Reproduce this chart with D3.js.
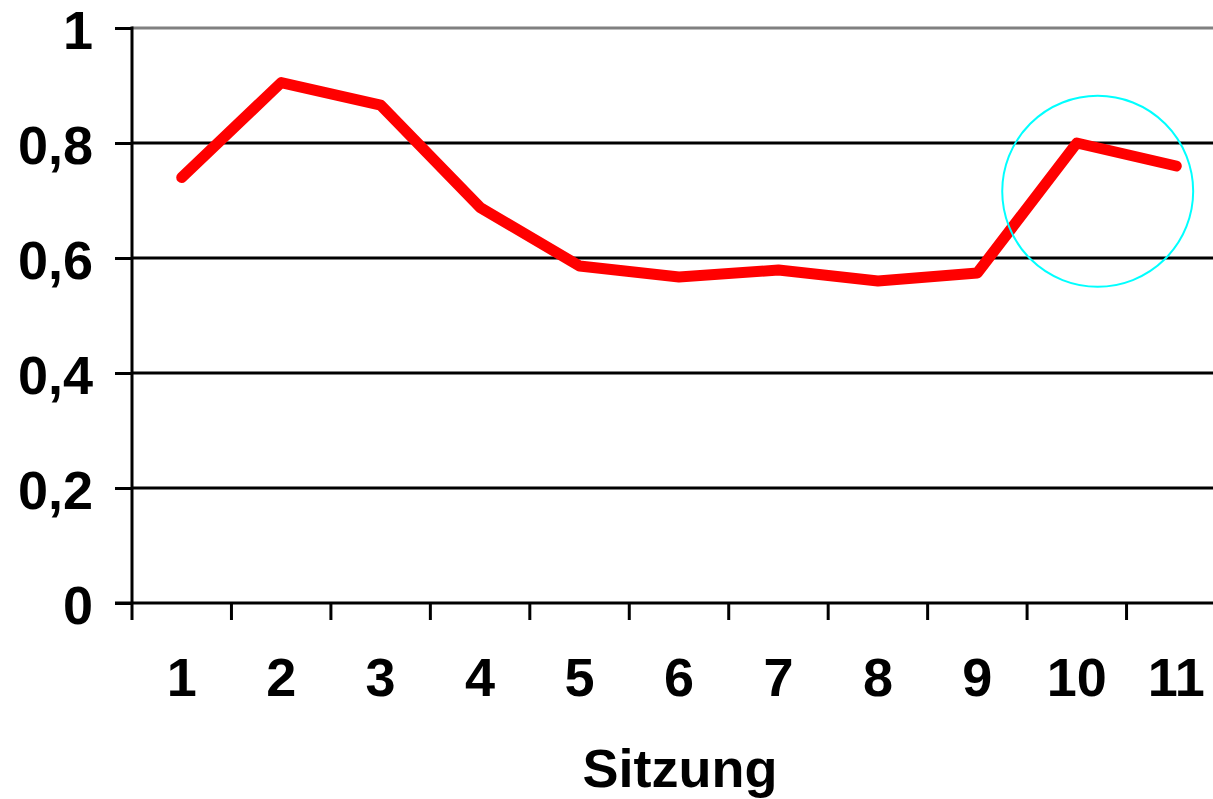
<!DOCTYPE html>
<html><head><meta charset="utf-8">
<script src="https://cdn.jsdelivr.net/npm/d3@7"></script>
<style>html,body{margin:0;padding:0;background:#fff;overflow:hidden}</style>
</head><body>
<svg id="c" width="1213" height="799"></svg>
<script>
const sessions = ["1","2","3","4","5","6","7","8","9","10","11"];
const values = [0.740, 0.905, 0.866, 0.688, 0.586, 0.567, 0.579, 0.560, 0.574, 0.800, 0.760];
const yTicks = [0, 0.2, 0.4, 0.6, 0.8, 1];
const yTickLabels = ["0", "0,2", "0,4", "0,6", "0,8", "1"];
const xTitle = "Sitzung";
const highlight = {from: 9, center: 0.716};

(function () {
const svg = d3.select("#c");
const mLeft = 132, mRight = 1226, mTop = 28, mBottom = 603;
const font = "Arial, 'Liberation Sans', sans-serif";
const fs = 54;

const x = d3.scaleBand().domain(sessions).range([mLeft, mRight]);
const y = d3.scaleLinear().domain([0, 1]).range([mBottom, mTop]);

// gridlines
svg.append("g").selectAll("line").data(yTicks.filter(d => d > 0)).join("line")
  .attr("x1", mLeft).attr("x2", 1213)
  .attr("y1", d => y(d)).attr("y2", d => y(d))
  .attr("stroke", d => d === 1 ? "#808080" : "#000").attr("stroke-width", 3);

// y axis
const yAxis = d3.axisLeft(y).tickValues(yTicks).tickSize(17).tickPadding(22)
  .tickFormat((d, i) => yTickLabels[i]);
const gy = svg.append("g").attr("transform", `translate(${mLeft},0)`).call(yAxis);
gy.select(".domain").remove();
gy.selectAll(".tick line").attr("stroke", "#000").attr("stroke-width", 3);
gy.append("line").attr("x1", 0).attr("x2", 0).attr("y1", mTop - 1.5).attr("y2", mBottom + 17)
  .attr("stroke", "#000").attr("stroke-width", 3);
gy.selectAll(".tick text").attr("font-family", font).attr("font-size", fs)
  .attr("font-weight", "bold").attr("fill", "#000").attr("dy", "0.38em");

// x axis
const bw = x.bandwidth();
const gx = svg.append("g").attr("transform", `translate(0,${mBottom})`);
gx.append("line").attr("x1", mLeft - 17).attr("x2", 1213).attr("y1", 0).attr("y2", 0)
  .attr("stroke", "#000").attr("stroke-width", 3);
gx.selectAll("line.t").data(sessions).join("line").attr("class", "t")
  .attr("x1", d => x(d) + bw).attr("x2", d => x(d) + bw).attr("y1", 0).attr("y2", 17)
  .attr("stroke", "#000").attr("stroke-width", 3);
gx.selectAll("text").data(sessions).join("text")
  .attr("x", d => x(d) + bw / 2).attr("y", 93)
  .attr("text-anchor", "middle").attr("font-family", font).attr("font-size", fs)
  .attr("font-weight", "bold").attr("fill", "#000").text(d => d);

svg.append("text").attr("x", 680).attr("y", 787).attr("text-anchor", "middle")
  .attr("font-family", font).attr("font-size", fs).attr("font-weight", "bold")
  .attr("fill", "#000").text(xTitle);

// line
const line = d3.line().x((d, i) => x(sessions[i]) + bw / 2).y(d => y(d));
svg.append("path").datum(values).attr("d", line).attr("fill", "none")
  .attr("stroke", "#ff0000").attr("stroke-width", 11)
  .attr("stroke-linejoin", "round").attr("stroke-linecap", "round");

// highlight circle
svg.append("circle")
  .attr("cx", x(sessions[highlight.from]) + bw * 0.71)
  .attr("cy", y(highlight.center))
  .attr("r", bw * 0.96)
  .attr("fill", "none").attr("stroke", "#00ffff").attr("stroke-width", 2);
})();
</script>
</body></html>
